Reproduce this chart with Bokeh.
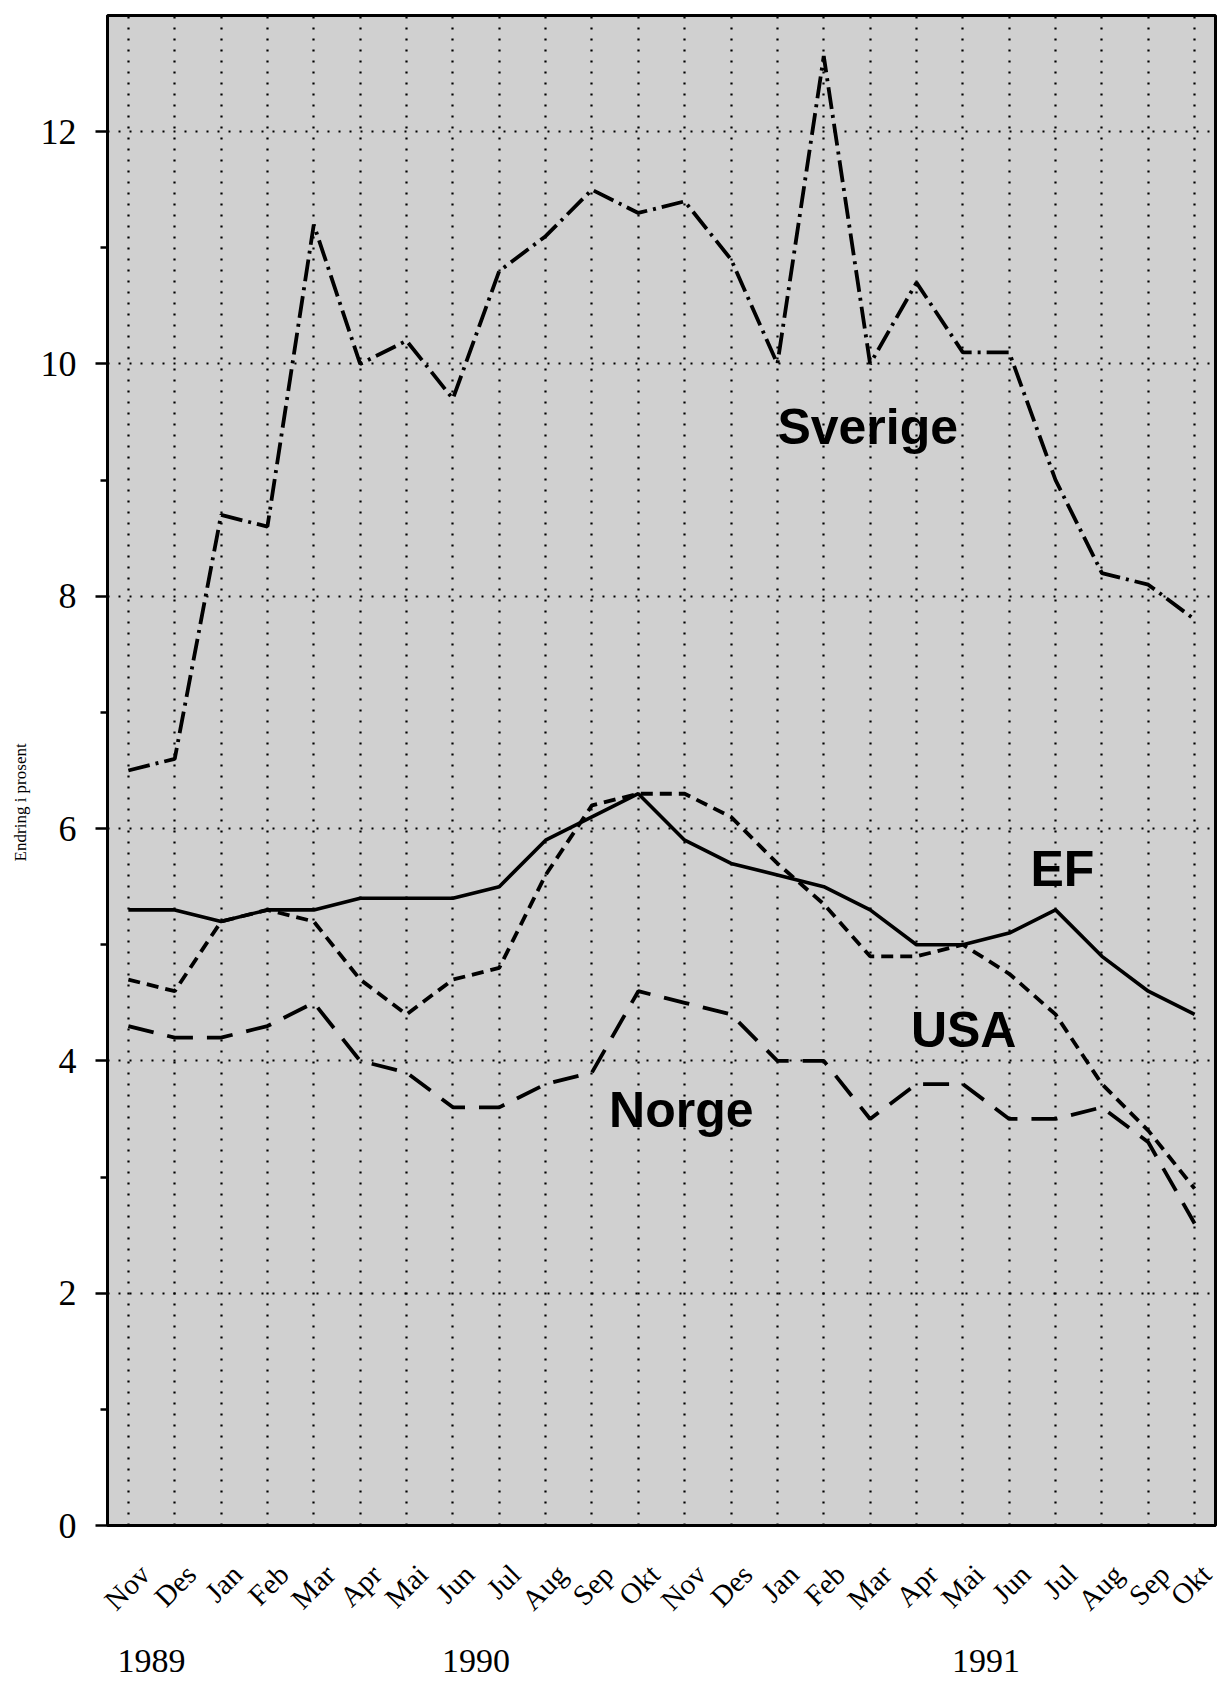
import numpy as np
from bokeh.plotting import figure
from bokeh.models import Range1d, FixedTicker, LinearAxis, Label
from bokeh.embed import file_html
from bokeh.resources import INLINE

# ---------------- data ----------------
months = ["Nov", "Des", "Jan", "Feb", "Mar", "Apr", "Mai", "Jun", "Jul", "Aug", "Sep", "Okt",
          "Nov", "Des", "Jan", "Feb", "Mar", "Apr", "Mai", "Jun", "Jul", "Aug", "Sep", "Okt"]
years = ["1989", "1989",
         "1990", "1990", "1990", "1990", "1990", "1990", "1990", "1990", "1990", "1990", "1990", "1990",
         "1991", "1991", "1991", "1991", "1991", "1991", "1991", "1991", "1991", "1991"]

sverige = [6.5, 6.6, 8.7, 8.6, 11.2, 10.0, 10.2, 9.7, 10.8, 11.1, 11.5, 11.3,
           11.4, 10.9, 10.0, 12.65, 10.0, 10.7, 10.1, 10.1, 9.0, 8.2, 8.1, 7.8]
ef = [5.3, 5.3, 5.2, 5.3, 5.3, 5.4, 5.4, 5.4, 5.5, 5.9, 6.1, 6.3,
      5.9, 5.7, 5.6, 5.5, 5.3, 5.0, 5.0, 5.1, 5.3, 4.9, 4.6, 4.4]
usa = [4.7, 4.6, 5.2, 5.3, 5.2, 4.7, 4.4, 4.7, 4.8, 5.6, 6.2, 6.3,
       6.3, 6.1, 5.7, 5.35, 4.9, 4.9, 5.0, 4.75, 4.4, 3.8, 3.4, 2.9]
norge = [4.3, 4.2, 4.2, 4.3, 4.5, 4.0, 3.9, 3.6, 3.6, 3.8, 3.9, 4.6,
         4.5, 4.4, 4.0, 4.0, 3.5, 3.8, 3.8, 3.5, 3.5, 3.6, 3.3, 2.6]

series_names = ["Sverige", "EF", "USA", "Norge"]
y_major_ticks = [0, 2, 4, 6, 8, 10, 12]
y_minor_ticks = [1, 3, 5, 7, 9, 11]
y_axis_title = "Endring i prosent"

# ---------------- figure ----------------
x = list(range(len(months)))
SERIF = "Liberation Serif"
SANS = "Liberation Sans"
MONTH_LABEL_SHIFT = 0.35   # rotated month labels sit centred under their grid line

p = figure(width=1217, height=1681, output_backend="svg", toolbar_location=None,
           x_range=Range1d(-0.45, len(months) - 1 + 0.45), y_range=Range1d(0, 13),
           min_border_left=107, min_border_right=2, min_border_top=15, min_border_bottom=156)
p.background_fill_color = "#d0d0d0"
p.border_fill_color = "white"
p.outline_line_color = "black"
p.outline_line_width = 3

# grids
p.xgrid.ticker = FixedTicker(ticks=x)
p.ygrid.ticker = FixedTicker(ticks=y_major_ticks)
for g in (p.xgrid, p.ygrid):
    g.grid_line_color = "black"
    g.grid_line_width = 2.2
    g.grid_line_dash = "2 9"

# y axis
p.yaxis.ticker = FixedTicker(ticks=y_major_ticks, minor_ticks=y_minor_ticks)
p.yaxis.axis_line_width = 3
p.yaxis.major_tick_out = 12
p.yaxis.major_tick_in = 0
p.yaxis.minor_tick_out = 7
p.yaxis.minor_tick_in = 0
p.yaxis.major_tick_line_width = 2.5
p.yaxis.minor_tick_line_width = 2.5
p.yaxis.major_label_text_font = SERIF
p.yaxis.major_label_text_font_size = "36px"
p.yaxis.major_label_text_color = "black"
p.yaxis.major_label_standoff = 19
p.yaxis.axis_label = y_axis_title + "\u00a0" * 15
p.yaxis.axis_label_text_font = SERIF
p.yaxis.axis_label_text_font_size = "17px"
p.yaxis.axis_label_text_font_style = "normal"
p.yaxis.axis_label_text_color = "black"
p.yaxis.axis_label_standoff = 8

# x axis (months)
month_ticks = [i + MONTH_LABEL_SHIFT for i in x]
p.xaxis.ticker = FixedTicker(ticks=month_ticks)
p.xaxis.major_label_overrides = {t: m for t, m in zip(month_ticks, months)}
p.xaxis.major_label_orientation = np.pi / 4
p.xaxis.major_label_text_font = SERIF
p.xaxis.major_label_text_font_size = "29px"
p.xaxis.major_label_text_color = "black"
p.xaxis.major_label_standoff = 38
p.xaxis.major_tick_line_color = None
p.xaxis.minor_tick_line_color = None
p.xaxis.axis_line_width = 3

# second x axis (years, centred on their months)
year_names = list(dict.fromkeys(years))
year_centers = [float(np.mean([i for i, yy in enumerate(years) if yy == yr])) for yr in year_names]
year_axis = LinearAxis(ticker=FixedTicker(ticks=year_centers),
                       major_label_overrides={c: yr for c, yr in zip(year_centers, year_names)})
year_axis.axis_line_color = None
year_axis.major_tick_line_color = None
year_axis.minor_tick_line_color = None
year_axis.major_label_text_font = SERIF
year_axis.major_label_text_font_size = "34px"
year_axis.major_label_text_color = "black"
year_axis.major_label_standoff = 13
p.add_layout(year_axis, "below")

# lines
p.line(x, sverige, line_color="black", line_width=3.8, line_dash="22 6 3 6")
p.line(x, ef, line_color="black", line_width=3.6)
p.line(x, usa, line_color="black", line_width=3.8, line_dash="12 7")
p.line(x, norge, line_color="black", line_width=3.8, line_dash="26 14")

# series labels
label_pos = {"Sverige": (14.0, 9.46), "EF": (19.46, 5.65), "USA": (16.88, 4.27), "Norge": (10.37, 3.58)}
for name in series_names:
    lx, ly = label_pos[name]
    p.add_layout(Label(x=lx, y=ly, text=name, text_font=SANS, text_font_size="50px",
                       text_font_style="bold", text_color="black", text_baseline="alphabetic",
                       text_align="left"))

open("out.html", "w").write(file_html(p, INLINE))
